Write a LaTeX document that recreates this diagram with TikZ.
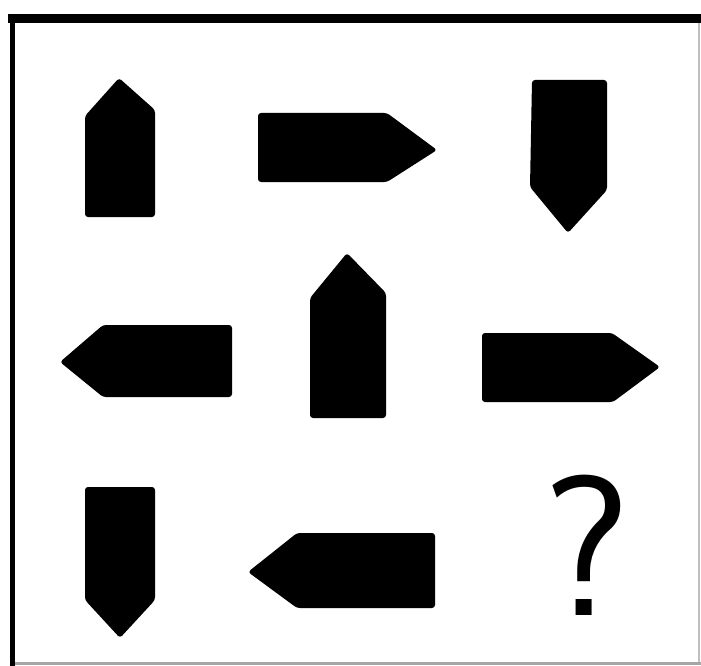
\documentclass[tikz,border=0pt]{standalone}
\begin{document}
\begin{tikzpicture}[x=1pt,y=-1pt,
  piece/.style={fill=black,rounded corners=3},
  qmark/.style={inner sep=0pt,font=\sffamily\fontsize{200}{200}\selectfont}]
\useasboundingbox (0,0) rectangle (701,666);
\fill[white] (0,0) rectangle (701,666);
% frame
\draw[line width=9] (8,18.5) -- (701,18.5);
\draw[line width=5] (12,14) -- (12,666);
\draw[gray!70,line width=3] (15,663) -- (701,663);
\draw[gray!50,line width=2] (699,23) -- (699,662);
% pieces
\fill[piece] (85,217) -- (85,116) -- (119,78) -- (155,110) -- (155,217) -- cycle;
\fill[piece] (258,113) -- (387,113) -- (437,150) -- (387,182) -- (258,182) -- cycle;
\fill[piece] (532,80) -- (607,80) -- (607,190) -- (568,233) -- (530,187) -- cycle;
\fill[piece] (60,362) -- (103,325) -- (232,325) -- (232,397) -- (103,397) -- cycle;
\fill[piece] (347,253) -- (386,293) -- (386,418) -- (310,418) -- (310,298) -- cycle;
\fill[piece] (482,333) -- (612,333) -- (660,367) -- (613,402) -- (482,402) -- cycle;
\fill[piece] (85,487) -- (155,487) -- (155,600) -- (120,638) -- (85,600) -- cycle;
\fill[piece] (248,572) -- (297,533) -- (435,533) -- (435,608) -- (297,608) -- cycle;
% question mark
\node[qmark,anchor=base] (qm) at (587,615) {?};
\end{tikzpicture}
\end{document}
